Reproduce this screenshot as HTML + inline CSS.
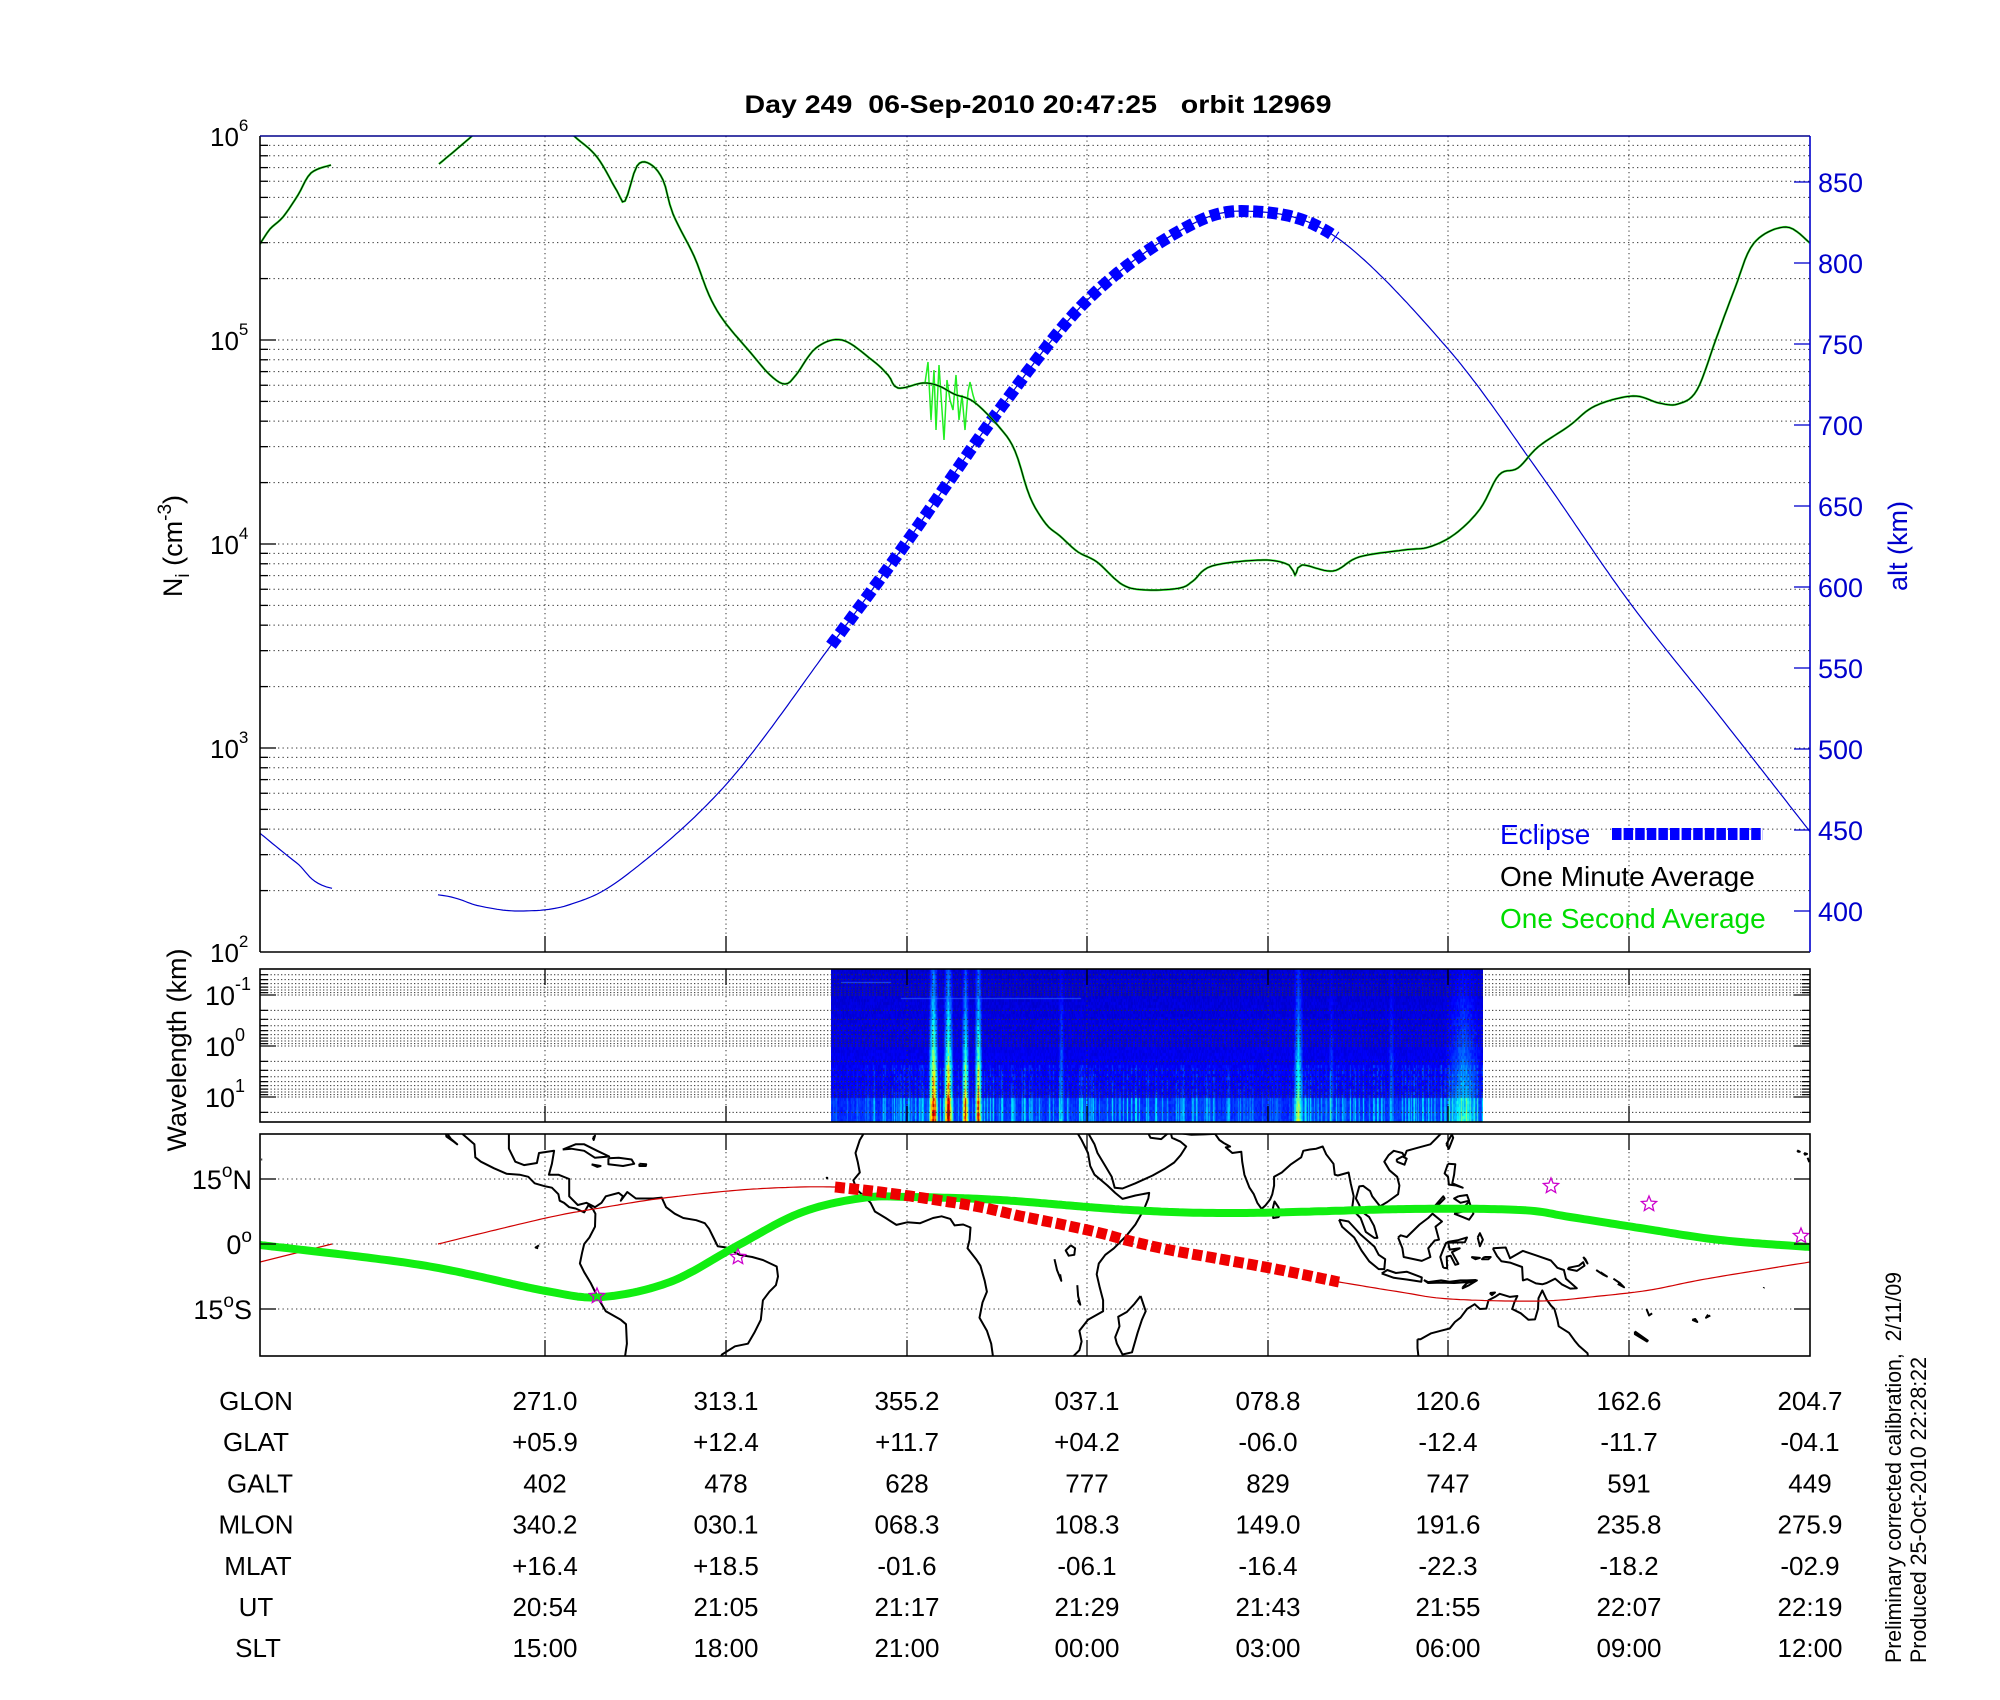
<!DOCTYPE html>
<html><head><meta charset="utf-8">
<style>
html,body{margin:0;padding:0;background:#fff;}
#wrap{position:relative;width:2000px;height:1700px;overflow:hidden;background:#fff;}
#spec{position:absolute;left:831px;top:969px;}
svg{position:absolute;left:0;top:0;}
text{font-family:"Liberation Sans",Arial,sans-serif;}
</style></head>
<body>
<div id="wrap">
<canvas id="spec" width="652" height="153"></canvas>
<svg id="s" width="2000" height="1700" xmlns="http://www.w3.org/2000/svg">
<defs>
<clipPath id="cTop"><rect x="260" y="136" width="1550" height="816"/></clipPath>
<clipPath id="cMap"><rect x="260" y="1134" width="1550" height="222"/></clipPath>
</defs>
<g id="grid"></g>
<g id="curves"></g>
<g id="mapg" clip-path="url(#cMap)"></g>
<g id="axes"></g>
<text x="1038" y="113" text-anchor="middle" font-size="25" font-weight="bold" textLength="587" lengthAdjust="spacingAndGlyphs" xml:space="preserve">Day 249  06-Sep-2010 20:47:25   orbit 12969</text>
<text transform="translate(182,546) rotate(-90)" text-anchor="middle" font-size="27">N<tspan font-size="19" dy="7">i</tspan><tspan dy="-7"> (cm</tspan><tspan font-size="19" dy="-11">-3</tspan><tspan dy="11">)</tspan></text>
<text transform="translate(186,1050) rotate(-90)" text-anchor="middle" font-size="27">Wavelength (km)</text>
<text transform="translate(1907,546) rotate(-90)" text-anchor="middle" font-size="27" fill="#0000cc">alt (km)</text>
<text x="1500" y="844" font-size="28" fill="#0000ee">Eclipse</text>
<line x1="1612" y1="834" x2="1763" y2="834" stroke="#0000ff" stroke-width="12" stroke-dasharray="9.5 2.1"/>
<text x="1500" y="886" font-size="28" fill="#000">One Minute Average</text>
<text x="1500" y="928" font-size="28" fill="#00dd00">One Second Average</text>
<text transform="translate(1901,1663) rotate(-90)" font-size="22" textLength="391" lengthAdjust="spacingAndGlyphs" xml:space="preserve">Preliminary corrected calibration,  2/11/09</text>
<text transform="translate(1926,1663) rotate(-90)" font-size="22" textLength="306" lengthAdjust="spacingAndGlyphs">Produced 25-Oct-2010 22:28:22</text>
<g id="table"></g>
</svg>
</div>
<script>
var NS="http://www.w3.org/2000/svg";
function el(parent,tag,attrs,txt){var e=document.createElementNS(NS,tag);for(var k in attrs)e.setAttribute(k,attrs[k]);if(txt!==undefined)e.textContent=txt;document.getElementById(parent).appendChild(e);return e;}
function line(p,x1,y1,x2,y2,st,w,da){var a={x1:x1,y1:y1,x2:x2,y2:y2,stroke:st,"stroke-width":w||1};if(da)a["stroke-dasharray"]=da;return el(p,"line",a);}
var GX=[545,726,907,1087,1268,1448,1629,1810];
var DOT="1.3 3.2";
var TOPY=136,BOTY=952,DEC=204;
for(var d=0;d<4;d++){for(var k=1;k<=9;k++){var y=BOTY-(d+Math.log10(k))*DEC; if(k==1&&d==0)continue; line("grid",260,y,1810,y,"#333",1,DOT);
  line("axes",260,y,260+(k==1?16:8),y,"#000",1.3);}}
for(var i=0;i<7;i++){line("grid",GX[i],TOPY,GX[i],BOTY,"#333",1,DOT);line("axes",GX[i],BOTY,GX[i],BOTY-16,"#000",1.3);}
line("axes",260,BOTY,1810,BOTY,"#000",1.6);
line("axes",260,TOPY,260,BOTY,"#000",1.6);
line("axes",260,TOPY,1810,TOPY,"#00008b",1.6);
line("axes",1810,TOPY,1810,BOTY,"#0000cc",1.6);
var ex=[2,3,4,5,6];
for(var i=0;i<5;i++){var y=BOTY-i*DEC;var t=el("axes","text",{x:210,y:y+10,"font-size":26});t.textContent="10";var ts=document.createElementNS(NS,"tspan");ts.setAttribute("dy","-15");ts.setAttribute("font-size","17");ts.textContent=ex[i];t.appendChild(ts);}
function altY(a){return 830-(a-450)*1.62;}
for(var a=400;a<=850;a+=50){var y=altY(a);line("axes",1794,y,1810,y,"#0000cc",1.3);el("axes","text",{x:1818,y:y+10,"font-size":27,fill:"#0000cc"},""+a);}
function cr(pts,step){var out=[];for(var i=0;i<pts.length-1;i++){var p0=pts[Math.max(0,i-1)],p1=pts[i],p2=pts[i+1],p3=pts[Math.min(pts.length-1,i+2)];var n=Math.max(2,Math.ceil((p2[0]-p1[0])/step));for(var j=0;j<n;j++){var t=j/n,t2=t*t,t3=t2*t;var f=function(a,b,c,dd){return 0.5*(2*b+(-a+c)*t+(2*a-5*b+4*c-dd)*t2+(-a+3*b-3*c+dd)*t3);};out.push([f(p0[0],p1[0],p2[0],p3[0]),f(p0[1],p1[1],p2[1],p3[1])]);}}out.push(pts[pts.length-1]);return out;}
function pth(pts){return "M"+pts.map(function(p){return p[0].toFixed(1)+","+p[1].toFixed(1);}).join("L");}
var altPts=[[260,448],[296,430],[332,414],[438,410],[480,403],[521,400],[570,404],[626,422],[726,478],[831,564],[907,628],[1000,710],[1087,777],[1180,820],[1248,832],[1336,816],[1448,747],[1540,670],[1629,591],[1720,520],[1810,449]];
var ac=cr(altPts,3).map(function(p){return [p[0],altY(p[1])];});
var seg1=ac.filter(function(p){return p[0]<=332;}),seg2=ac.filter(function(p){return p[0]>=438;});
var cg=el("curves","g",{"clip-path":"url(#cTop)"});
function addPath(par,d,attrs){var e=document.createElementNS(NS,"path");e.setAttribute("d",d);e.setAttribute("fill","none");for(var k in attrs)e.setAttribute(k,attrs[k]);par.appendChild(e);return e;}
addPath(cg,pth(seg1),{stroke:"#0000cc","stroke-width":1.2});
addPath(cg,pth(seg2),{stroke:"#0000cc","stroke-width":1.2});
var ecl=ac.filter(function(p){return p[0]>=831&&p[0]<=1336;});
addPath(cg,pth(ecl),{stroke:"#0000ff","stroke-width":12,"stroke-dasharray":"10 4.5"});
var d1=[[260,244],[270,229],[283,217],[298,195],[311,173],[331,165]];
var d2=[[439,164],[472,136],[500,110],[540,105],[574,136],[597,157],[617,191],[625,201],[637,166],[650,164],[663,180],[673,214],[694,256],[709,295],[724,321],[750,352],[770,375],[785,384],[796,375],[816,348],[842,340],[872,360],[888,375],[898,388],[923,383],[939,386],[954,394],[974,402],[1000,428],[1015,451],[1030,497],[1046,524],[1060,536],[1078,552],[1097,562],[1123,585],[1148,590],[1180,588],[1193,581],[1212,566],[1263,560],[1289,565],[1295,575],[1302,565],[1333,571],[1359,557],[1404,550],[1429,547],[1455,534],[1480,509],[1499,475],[1518,468],[1538,447],[1569,426],[1595,406],[1633,396],[1659,403],[1678,404],[1697,390],[1716,339],[1735,288],[1754,243],[1786,227],[1810,243]];
var c1=cr(d1,3),c2=cr(d2,3);
addPath(cg,pth(c1),{stroke:"#22ee22","stroke-width":2.2});
addPath(cg,pth(c2),{stroke:"#22ee22","stroke-width":2.2});
var sp=[[923,383],[925,383],[928,362],[931,420],[934,370],[936,430],[939,365],[941,395],[944,440],[947,380],[950,400],[953,410],[956,375],[959,420],[962,395],[965,430],[968,392],[970,382],[973,395],[976,405]];
addPath(cg,pth(sp),{stroke:"#22ee22","stroke-width":1.5});
addPath(cg,pth(c1),{stroke:"#000","stroke-width":1});
addPath(cg,pth(c2),{stroke:"#000","stroke-width":1});
var ST=969,SB=1122;
function wy(v){return 995+(v+1)*51;}
for(var dd=-2;dd<=1;dd++){for(var k=1;k<=9;k++){var y=wy(dd+Math.log10(k));if(y<=ST+1||y>=SB-1)continue;line("grid",260,y,1810,y,"#333",1,"1.3 2.2");line("axes",260,y,260+(k==1?16:8),y,"#000",1.2);line("axes",1810,y,1810-(k==1?16:8),y,"#000",1.2);}}
for(var i=0;i<7;i++){line("grid",GX[i],ST,GX[i],SB,"#333",1,DOT);line("axes",GX[i],SB,GX[i],SB-16,"#000",1.3);line("axes",GX[i],ST,GX[i],ST+16,"#000",1.3);}
el("axes","rect",{x:260,y:ST,width:1550,height:SB-ST,fill:"none",stroke:"#000","stroke-width":1.6});
var wl=[["-1",995],["0",1046],["1",1097]];
wl.forEach(function(w){var t=el("axes","text",{x:205,y:w[1]+10,"font-size":27});t.textContent="10";var ts=document.createElementNS(NS,"tspan");ts.setAttribute("dy","-15");ts.setAttribute("font-size","18");ts.textContent=w[0];t.appendChild(ts);});
(function(){var cv=document.getElementById("spec");if(!cv.getContext)return;var ctx=cv.getContext("2d");var seed=12345;function r(){seed=(seed*1103515245+12345)&0x7fffffff;return seed/0x7fffffff;}
function cl(v){return Math.max(0,Math.min(1,v));}
function jet(v){return "rgb("+Math.round(255*cl(1.5-Math.abs(4*v-3)))+","+Math.round(255*cl(1.5-Math.abs(4*v-2)))+","+Math.round(255*cl(1.5-Math.abs(4*v-1)))+")";}
var streaks=[[102,4,0.85],[117,4,0.78],[134,3,0.6],[147,3,0.72],[230,2,0.2],[467,4,0.45],[632,18,0.22],[560,2,0.15],[500,2,0.12]];
for(var x=0;x<652;x++){var act=r();var colB=(act>0.6)?(0.05+0.18*r()):0.04*r();if(x>410&&x<470)colB*=0.5;if(x<40)colB*=0.4;
 var sAmp=0;streaks.forEach(function(s){var dx=Math.abs(x-s[0]);if(dx<=s[1]){var f=1-dx/(s[1]+1);sAmp=Math.max(sAmp,s[2]*f);}});
 for(var y=0;y<153;y+=3){var yf=y/153;var v=0.06+0.04*r()+0.05*yf;
  if(y>=128)v+=colB+0.03;else if(y>=95)v+=colB*0.5*r();
  if(sAmp>0)v+=sAmp*(0.2+0.8*Math.pow(yf,1.5))*(0.8+0.4*r());
  ctx.fillStyle=jet(Math.min(0.98,v));ctx.fillRect(x,y,1,3);}
}
ctx.fillStyle="rgba(60,140,255,0.6)";ctx.fillRect(10,13,50,1);ctx.fillRect(70,29,180,1);
})();
var MT=1134,MB=1356;
function mx(lon){return 260+(((lon-204.7)%360+360)%360)*4.306;}
function my(lat){return 1244-lat*4.333;}
[1179,1244,1309].forEach(function(y){line("grid",260,y,1810,y,"#333",1,DOT);line("axes",260,y,276,y,"#000",1.3);line("axes",1810,y,1794,y,"#000",1.3);});
for(var i=0;i<7;i++){line("grid",GX[i],MT,GX[i],MB,"#333",1,DOT);line("axes",GX[i],MB,GX[i],MB-16,"#000",1.3);line("axes",GX[i],MT,GX[i],MT+16,"#000",1.3);}
el("axes","rect",{x:260,y:MT,width:1550,height:MB-MT,fill:"none",stroke:"#000","stroke-width":1.6});
[["15","N",1179],["0","",1244],["15","S",1309]].forEach(function(m){var t=el("axes","text",{x:252,y:m[2]+10,"font-size":27,"text-anchor":"end"});t.appendChild(document.createTextNode(m[0]));var ts=document.createElementNS(NS,"tspan");ts.setAttribute("dy","-12");ts.setAttribute("font-size","19");ts.textContent="o";t.appendChild(ts);if(m[1]){var t2=document.createElementNS(NS,"tspan");t2.setAttribute("dy","12");t2.textContent=m[1];t.appendChild(t2);}});
var coasts=[
[[-112.2,26],[-111,24.3],[-109.5,23],[-110.3,23.6],[-112,24.8],[-112.2,26]],
[[-109,26],[-105.5,23],[-105.3,20],[-104,19],[-101,17.5],[-98,16.2],[-95,16],[-93,15.5],[-91.5,14],[-89,13.3],[-87.5,13],[-86,11.5],[-85.7,10],[-84.7,9.5],[-83.5,8.5],[-82,8.2],[-80,7.3],[-79,9],[-78,8],[-77.4,7],[-77.5,4],[-78.8,1.5],[-80,0],[-80.5,-2],[-81,-4.5],[-80,-6.5],[-78.5,-9],[-76.5,-13],[-75,-15.5],[-71.5,-17.5],[-70.3,-18.5],[-70.1,-23],[-70.6,-26.5]],
[[-97.5,26.5],[-97.5,22],[-96,19],[-94,18.2],[-91,18.7],[-90.5,21],[-87,21.5],[-87.5,18.5],[-88.2,16],[-86,16],[-83.5,15],[-83.5,11],[-81.5,9],[-79.5,9.5],[-77.5,8.5],[-76,9.5],[-75,11],[-72,11.8],[-71,11],[-71.5,10],[-70,12],[-68,10.5],[-64,10.5],[-62,10.7],[-61,8.5],[-59,7],[-57,6],[-54,5.5],[-52,4.8],[-51,3.5],[-50,1.5],[-49,-0.5],[-47,-0.8],[-44,-2.5],[-41,-3],[-38.5,-3.7],[-35.3,-5.2],[-35,-7.5],[-35.5,-9.5],[-37,-11],[-38.5,-13],[-39,-17.5],[-40.5,-20.5],[-42,-23],[-45,-23.6],[-48,-25.5],[-48.6,-26.5]],
[[-85,21.8],[-82,23],[-80,23],[-77,21.5],[-74.2,20.2],[-77.5,19.9],[-80,21.5],[-83,22],[-85,21.8]],
[[-74.4,19.8],[-72,19.9],[-69,19.5],[-68.4,18.5],[-71,18],[-74.4,18.4],[-74.4,19.8]],
[[-78.3,18.4],[-76.2,18],[-77,17.8],[-78.3,18.4]],
[[-67.2,18.5],[-65.6,18.4],[-65.7,18],[-67.2,18],[-67.2,18.5]],
[[-78,24.5],[-77.5,25],[-77.8,24],[-78,24.5]],
[[-14.5,26.5],[-16,24],[-17,21],[-16.5,19],[-16,16.5],[-17.5,14.7],[-16.7,12.5],[-15,11],[-13.5,9.5],[-12.5,7.5],[-10,6],[-7.5,4.4],[-5,5],[-2,4.8],[1,6],[3,6.4],[5,5.8],[6,4.3],[8,4.5],[9.7,3.8],[9.5,1],[9,-1],[11,-3.5],[12,-5],[13,-8.5],[13.5,-11],[12.5,-13.5],[11.8,-17],[13.5,-20],[14.5,-23],[15,-26.5]],
[[34,26.5],[35.5,24],[37,21],[37.5,18],[38.5,16],[39.7,15],[41.5,13.5],[43.3,11.8],[45,10.4],[48,11.2],[51.2,11.8],[51,10.5],[50,8],[48,4.5],[46,2],[43,-1],[41,-2.5],[39.5,-4.5],[39,-7],[39.7,-10],[40.5,-13],[40.5,-15.5],[37,-17.5],[35,-20],[35.5,-22.5],[35,-24.5],[33,-26.5]],
[[36.5,26.5],[38.5,23],[39.2,21],[41,18],[42.5,15.5],[43.2,13],[45,12.8],[48,14],[52,15.8],[55,17.5],[57,18.8],[58.5,20.5],[59.8,22.5],[58.5,23.6],[56.5,24.5],[56,26.5]],
[[50.5,26.5],[51.5,24.5],[54,24.2],[55.5,25.5],[56.2,26.5]],
[[57,26.5],[57.3,25.7],[61,25.2],[64,25.3],[66.5,25.4],[67.5,24],[68.5,23.3],[70,22.5],[69,22.3],[70.5,21],[72.6,21.3],[72.8,19],[73.3,16],[74.5,13],[75.5,11.5],[76.3,9.5],[77.3,8.1],[78.2,8.9],[79.3,10.3],[79.8,11.5],[80.2,13.5],[80.2,15.5],[82,16.5],[84,18.3],[86.5,20],[87,21.5],[88.5,21.8],[90,22],[91.5,22.5],[92.3,20.7],[94,18.5],[94.3,16],[95,15.8],[97.5,16.5],[98,14],[98.7,11],[98.3,8],[100.3,6],[101.5,2.8],[103.5,1.4],[104.2,1.4],[103.4,4.2],[102.3,6.2],[100.5,7.5],[100,9],[99.2,10.5],[100,13.3],[100.9,13.4],[102.5,12.2],[103,11],[104.8,8.7],[106.5,9.7],[109,11.5],[109.3,13.5],[108.8,15.5],[107,17],[105.8,19],[106.8,20.5],[108,21.5],[110,21],[110.5,20.2],[111,21.5],[113.5,22.2],[116.5,23],[119,25.5],[119.8,26.5]],
[[108.7,19],[110.5,18.3],[111,19.7],[110,20.2],[108.7,19.5],[108.7,19]],
[[120.2,23],[120.8,22],[121.8,24.5],[121.5,25.3],[120.2,23]],
[[79.9,8.2],[80.3,9.8],[81.2,8.5],[81.8,7],[81.2,6.2],[80,6],[79.9,8.2]],
[[49.2,-12],[50.4,-15.5],[49.5,-17.5],[48.5,-20.5],[47.2,-25],[45,-25.5],[43.7,-23],[43.3,-21.5],[44.3,-19],[44,-16.8],[46,-15.7],[47.8,-13.8],[49.2,-12]],
[[33,-0.3],[34,-1],[33.8,-2.5],[32.5,-2.7],[31.8,-1.5],[33,-0.3]],
[[29.2,-3.5],[29.8,-6],[30.8,-8.5],[30.5,-7]],
[[34.5,-9.5],[34.7,-12],[35.2,-14],[34.6,-13]],
[[95.3,5.6],[97.5,5.2],[100.3,2.2],[103.5,-0.6],[104.5,-2.5],[106,-3.5],[105.8,-5.8],[104.5,-5.8],[102.3,-4],[100.5,-1.5],[98.8,1.5],[96,4],[95.3,5.6]],
[[105.2,-6.8],[106.5,-6],[108.5,-6.7],[111,-6.4],[114.5,-7.7],[114.4,-8.7],[111,-8.2],[108,-7.8],[105.5,-6.9],[105.2,-6.8]],
[[115,-8.3],[116,-8.8],[119,-8.4],[121,-8.7],[123.5,-8.4],[125,-8.4],[127,-8.3],[125,-8.8],[122,-9],[119,-8.9],[116,-9],[115,-8.3]],
[[124,-10],[125,-9],[127.3,-8.4],[125.5,-9.5],[124,-10.2],[124,-10]],
[[109,1.5],[110,-1],[110.3,-3],[114.5,-3.9],[116.5,-3],[116,-1],[117.5,0.8],[118.5,1],[117.7,4],[119.2,5.2],[117,7],[116,6],[114,4.5],[111,1.6],[109.6,2],[109,1.5]],
[[119.5,-5.5],[120.4,-5.6],[120.3,-2.9],[121.2,-2.7],[122.3,-4.8],[123,-4.6],[121.5,-1.9],[123.3,-1],[121,-1.3],[120.6,0.5],[123,0.9],[125,1.5],[124.5,0.4],[120.2,0.3],[119.6,-1],[118.8,-3],[119.5,-5.5]],
[[127.5,1.5],[128,-0.5],[128.7,1],[128,2.5],[127.5,1.5]],
[[126,-3],[127,-3.5],[128,-3.2],[126,-3]],
[[129,-3],[130.5,-3],[130,-3.5],[128.5,-3.5],[129,-3]],
[[120.6,18.5],[122.3,18.4],[122,16],[121.6,14],[124,13],[122.5,13.5],[120.8,13.7],[120.6,15.5],[119.8,16.3],[120.6,18.5]],
[[122,7],[124,7.5],[124.3,8.5],[125.5,9.8],[126.5,7],[125.5,5.6],[124,6.2],[122,7]],
[[123,11],[125,11.3],[125.5,10],[123.5,9.5],[122,10.5],[123,11]],
[[117.2,8.4],[119.5,11],[119.8,10.5],[117.5,8.2]],
[[131,-1],[134,-0.8],[135,-3.3],[138,-1.6],[141,-2.6],[144.5,-3.8],[146,-5.5],[147.5,-6],[148,-8],[150.5,-10.2],[149,-10.3],[147,-9.3],[145.5,-8],[143.5,-9],[142.5,-9.3],[141,-9.1],[139,-8.1],[138,-8.4],[137.8,-5.3],[135,-4.3],[133,-4],[132,-2.8],[131,-1]],
[[148.5,-5.5],[151,-5],[152,-4.2],[152.3,-5],[150.5,-6.2],[148.5,-5.8],[148.5,-5.5]],
[[152,-3],[153,-4.5],[152.5,-3.5],[152,-3]],
[[155,-6],[156.5,-7],[157.5,-7.5],[156,-6.5]],
[[159,-8],[160.5,-9],[161.5,-10],[160,-9.2]],
[[166.7,-15],[167.3,-16.5],[168,-16]],
[[164,-20.2],[167,-22.3],[166.8,-22.5],[164,-20.8],[164,-20.2]],
[[177.3,-17.5],[178.5,-18],[178,-17.3],[177.3,-17.5]],
[[-178.5,-16.5],[-179.5,-17],[-179,-16.3]],
[[-155.9,19.9],[-155,19.5],[-154.8,19.5],[-155.5,18.9],[-155.9,19.9]],
[[-156.7,21],[-156,20.8],[-156.5,20.6],[-156.7,21]],
[[-158.3,21.6],[-157.7,21.3],[-158.1,21.3],[-158.3,21.6]],
[[113.5,-22],[114.2,-22],[116.7,-20.6],[119,-20],[121,-19.5],[122.2,-18],[123.5,-17],[125,-15],[126.8,-13.9],[128,-15],[129.5,-14.9],[130,-13],[131.5,-12.2],[132.6,-11.5],[135,-12.2],[136.7,-12],[136,-13.5],[135.5,-15],[137.5,-16],[139.3,-17.5],[140.8,-17.4],[141.5,-15],[141.6,-12.5],[142.5,-10.7],[143.5,-12.8],[144.5,-14.2],[145.3,-15],[146,-17.5],[146.3,-19],[148.7,-20.5],[150,-22.3],[151,-23.5],[153,-25.2],[153.2,-26.5]],
[[113.5,-22],[113.5,-24],[113.8,-26.5]],
[[130.3,-11.3],[131.5,-11.2],[130.8,-11.8],[130.3,-11.3]],
[[-23.5,15],[-23.7,15.3],[-23.4,15.2]],[[-90.5,-0.3],[-91.3,-0.8],[-90.7,-1]],[[-166,-10],[-166.1,-10.2]]
];
var mg=document.getElementById("mapg");
coasts.forEach(function(c){var d="";var prev=null;c.forEach(function(p,i){var x=mx(p[0]),y=my(p[1]);if(i==0||Math.abs(x-prev)>700)d+="M";else d+="L";d+=x.toFixed(1)+","+y.toFixed(1);prev=x;});addPath(mg,d,{stroke:"#000","stroke-width":2,"stroke-linejoin":"round"});});
addPath(mg,pth([[260,1262],[300,1252],[332,1244]]),{stroke:"#d00000","stroke-width":1.2});
addPath(mg,pth(cr([[438,1244],[546,1218],[606,1207],[664,1198],[740,1190],[800,1187],[835,1187]],4)),{stroke:"#d00000","stroke-width":1.2});
addPath(mg,pth(cr([[1339,1282],[1400,1292],[1450,1299],[1540,1301],[1600,1296],[1650,1290],[1700,1280],[1760,1270],[1810,1262]],4)),{stroke:"#d00000","stroke-width":1.2});
addPath(mg,pth(cr([[260,1245],[421,1265],[546,1291],[602,1297],[670,1282],[735,1247],[800,1213],[862,1198],[910,1197],[1000,1200],[1130,1210],[1240,1213],[1410,1209],[1520,1210],[1570,1217],[1640,1228],[1720,1240],[1810,1247]],4)),{stroke:"#11ee11","stroke-width":8,"stroke-linejoin":"round"});
addPath(mg,pth(cr([[835,1187],[880,1192],[930,1199],[980,1207],[1020,1216],[1060,1224],[1100,1233],[1130,1241],[1170,1250],[1220,1259],[1270,1268],[1310,1276],[1339,1282]],4)),{stroke:"#ee0000","stroke-width":11,"stroke-dasharray":"10 4"});
function star(cx,cy,r){var p=[];for(var i=0;i<10;i++){var a=-Math.PI/2+i*Math.PI/5;var rr=i%2?r*0.45:r;p.push((cx+rr*Math.cos(a)).toFixed(1)+","+(cy+rr*Math.sin(a)).toFixed(1));}var e=document.createElementNS(NS,"polygon");e.setAttribute("points",p.join(" "));e.setAttribute("fill","none");e.setAttribute("stroke","#cc00cc");e.setAttribute("stroke-width","1.3");mg.appendChild(e);}
[[597,1296],[738,1257],[1551,1186],[1649,1204],[1801,1236]].forEach(function(s){star(s[0],s[1],8);});
var rows=[["GLON",["271.0","313.1","355.2","037.1","078.8","120.6","162.6","204.7"]],
["GLAT",["+05.9","+12.4","+11.7","+04.2","-06.0","-12.4","-11.7","-04.1"]],
["GALT",["402","478","628","777","829","747","591","449"]],
["MLON",["340.2","030.1","068.3","108.3","149.0","191.6","235.8","275.9"]],
["MLAT",["+16.4","+18.5","-01.6","-06.1","-16.4","-22.3","-18.2","-02.9"]],
["UT",["20:54","21:05","21:17","21:29","21:43","21:55","22:07","22:19"]],
["SLT",["15:00","18:00","21:00","00:00","03:00","06:00","09:00","12:00"]]];
var lx=[256,256,260,256,258,256,258];
rows.forEach(function(r,i){var y=1410+i*41.2;el("table","text",{x:lx[i],y:y,"font-size":26,"text-anchor":"middle"},r[0]);r[1].forEach(function(v,j){el("table","text",{x:GX[j],y:y,"font-size":26,"text-anchor":"middle"},v);});});
</script>
</body></html>
